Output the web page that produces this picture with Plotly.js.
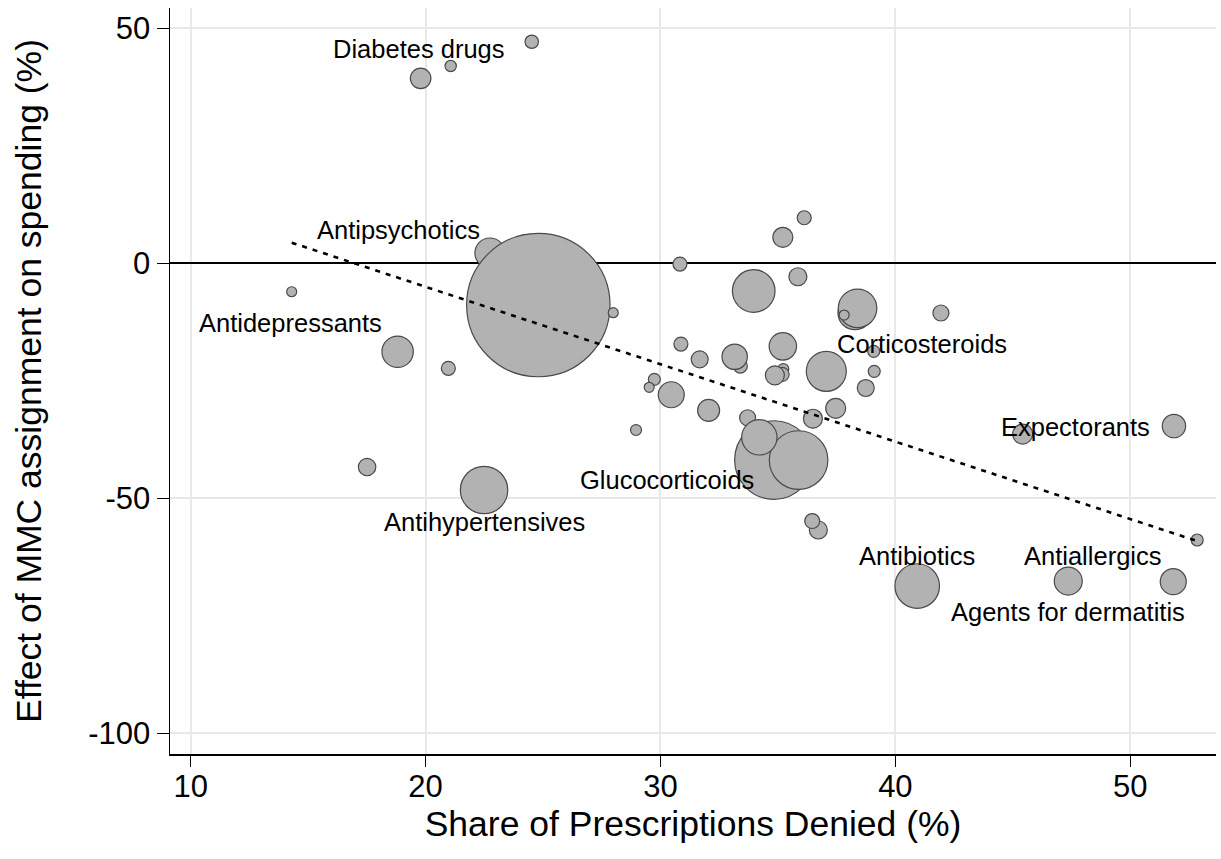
<!DOCTYPE html>
<html>
<head>
<meta charset="utf-8">
<script src="https://cdn.plot.ly/plotly-3.0.1.min.js"></script>
<style>html,body{margin:0;padding:0;background:#fff;}#chart{width:1221px;height:859px;}</style>
</head>
<body>
<div id="chart"></div>
<script>
// Share of prescriptions denied (%)
const shareDenied = [22.74, 24.80, 33.71, 34.83, 35.88, 34.21, 40.93, 22.49, 33.97, 37.06,
  38.28, 38.39, 18.81, 47.36, 35.21, 30.46, 51.83, 33.40, 33.16, 51.86,
  32.05, 19.79, 35.21, 37.46, 45.42, 36.49, 35.23, 35.18, 34.87, 35.85,
  36.72, 36.46, 17.51, 38.74, 31.67, 41.94, 30.83, 36.12, 30.87, 20.97,
  24.52, 39.08, 39.10, 29.74, 52.85, 21.07, 28.96, 27.99, 37.82, 29.52, 14.30];
// Effect of MMC assignment on spending (%)
const effectSpending = [2.2, -8.87, -32.85, -41.85, -41.85, -37.02, -68.66, -48.23, -5.89, -22.98,
  -10.5, -9.57, -18.81, -67.6, -17.66, -27.96, -67.74, -21.85, -19.87, -34.62,
  -31.28, 39.36, 5.53, -30.85, -36.32, -33.06, -22.49, -23.62, -23.83, -2.85,
  -56.74, -54.83, -43.34, -26.53, -20.43, -10.57, -0.15, 9.70, -17.17, -22.34,
  47.15, -18.72, -22.98, -24.68, -58.87, 41.98, -35.47, -10.5, -11.0, -26.38, -6.04];
// Bubble weights (relative size of drug class)
const weights = [225, 5141, 64, 1544, 858, 313, 497, 562, 454, 400,
  289, 372, 246, 196, 188, 169, 169, 49, 161, 137,
  121, 106, 100, 100, 100, 90, 30, 49, 90, 81,
  81, 56, 76, 72, 72, 64, 49, 49, 49, 49,
  45, 36, 36, 36, 36, 32, 30, 25, 25, 25, 25];

// Linear fit endpoints
const fitX = [14.30, 52.85];
const fitY = [4.4, -59.1];

// Labels
const labelText = ["Diabetes drugs", "Antipsychotics", "Antidepressants", "Corticosteroids",
  "Expectorants", "Glucocorticoids", "Antihypertensives", "Antibiotics", "Antiallergics",
  "Agents for dermatitis"];
const labelX = [19.73, 18.85, 14.27, 41.12, 47.68, 30.28, 22.49, 40.92, 48.40, 47.36];
const labelY = [45.7, 7.2, -12.7, -17.2, -34.8, -46.1, -55.0, -62.3, -62.3, -74.1];

// Axis ticks
const xTickVals = [10, 20, 30, 40, 50];
const xTickText = ["10", "20", "30", "40", "50"];
const yTickVals = [50, 0, -50, -100];
const yTickText = ["50", "0", "-50", "-100"];

const FONT = "Arial, 'Liberation Sans', sans-serif";

const traces = [
  {
    type: "scatter", mode: "markers",
    x: shareDenied, y: effectSpending,
    marker: {
      size: weights, sizemode: "area", sizeref: 0.5,
      color: "#b2b2b2", line: {color: "#4a4a4a", width: 1.2}, opacity: 1
    },
    hoverinfo: "x+y", showlegend: false
  },
  {
    type: "scatter", mode: "lines",
    x: fitX, y: fitY,
    line: {color: "#000", width: 2.6, dash: "5px,6px"},
    hoverinfo: "skip", showlegend: false
  }
];

const annotations = labelText.map((t, i) => ({
  x: labelX[i], y: labelY[i], xref: "x", yref: "y", text: t,
  showarrow: false, xanchor: "center", yanchor: "middle",
  font: {family: FONT, size: 25.5, color: "#000"}
}));

const layout = {
  width: 1221, height: 859,
  margin: {l: 170, r: 5, t: 8, b: 105},
  paper_bgcolor: "#fff", plot_bgcolor: "#fff",
  font: {family: FONT, color: "#000"},
  xaxis: {
    range: [9.12, 53.65],
    tickmode: "array", tickvals: xTickVals, ticktext: xTickText,
    tickfont: {family: FONT, size: 31, color: "#000"},
    ticks: "outside", ticklen: 11, tickwidth: 1.5, tickcolor: "#000",
    ticklabelstandoff: -7,
    showline: true, linecolor: "#000", linewidth: 1.5,
    showgrid: true, gridcolor: "#e8e8e8", gridwidth: 2,
    zeroline: false,
    title: {text: "Share of Prescriptions Denied (%)", font: {family: FONT, size: 35.5, color: "#000"}, standoff: 6},
    automargin: false
  },
  yaxis: {
    range: [-104.4, 54.33],
    tickmode: "array", tickvals: yTickVals, ticktext: yTickText,
    tickfont: {family: FONT, size: 31, color: "#000"},
    ticks: "outside", ticklen: 12, tickwidth: 1.5, tickcolor: "#000",
    showline: true, linecolor: "#000", linewidth: 1.5,
    showgrid: true, gridcolor: "#e8e8e8", gridwidth: 2,
    zeroline: true, zerolinecolor: "#000", zerolinewidth: 1.8,
    title: {text: "Effect of MMC assignment on spending (%)", font: {family: FONT, size: 35.5, color: "#000"}, standoff: 36},
    automargin: false
  },
  annotations: annotations,
  showlegend: false
};

Plotly.newPlot("chart", traces, layout, {displayModeBar: false, staticPlot: true});
</script>
</body>
</html>
